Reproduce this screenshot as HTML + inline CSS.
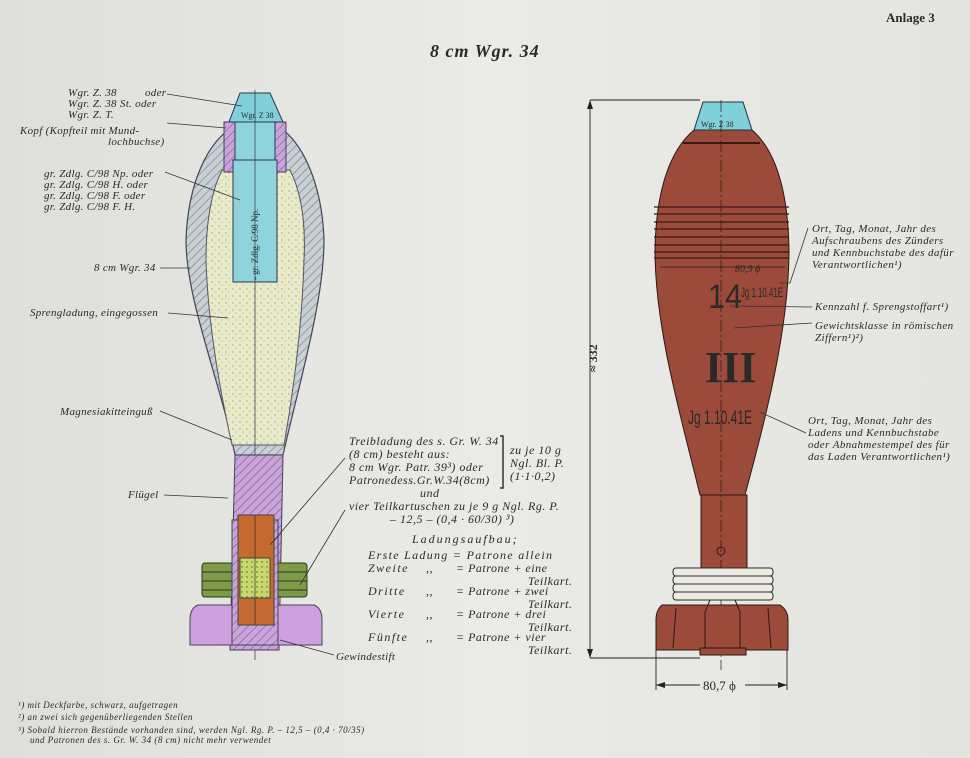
<!DOCTYPE html>
<html><head><meta charset="utf-8"><style>
html,body{margin:0;padding:0;background:#e4e4e0}
svg{display:block}
text{font-family:"Liberation Serif",serif;font-style:italic;fill:#2a2a2a}
</style></head><body>
<svg width="970" height="758" viewBox="0 0 970 758" xmlns="http://www.w3.org/2000/svg">
<defs>
<linearGradient id="bg" x1="0" y1="0" x2="1" y2="0">
<stop offset="0" stop-color="#dededa"/><stop offset="0.5" stop-color="#eaeae6"/><stop offset="1" stop-color="#e4e4e0"/></linearGradient>
<pattern id="hat" width="6" height="6" patternUnits="userSpaceOnUse" patternTransform="rotate(45)">
<rect width="6" height="6" fill="#c8d0d4"/><line x1="0" y1="0" x2="0" y2="6" stroke="#6c7c88" stroke-width="1.2"/></pattern>
<pattern id="hatp" width="6" height="6" patternUnits="userSpaceOnUse" patternTransform="rotate(45)">
<rect width="6" height="6" fill="#c9a4d8"/><line x1="0" y1="0" x2="0" y2="6" stroke="#6a4a8a" stroke-width="1"/></pattern>
<pattern id="dots" width="7" height="7" patternUnits="userSpaceOnUse">
<rect width="7" height="7" fill="#e9ebc8"/><circle cx="2" cy="2" r="0.6" fill="#777"/><circle cx="5" cy="5" r="0.5" fill="#888"/></pattern>
<pattern id="gdots" width="5" height="5" patternUnits="userSpaceOnUse">
<rect width="5" height="5" fill="#c8d86a"/><circle cx="2" cy="2" r="0.7" fill="#556020"/></pattern>
</defs>
<rect width="970" height="758" fill="url(#bg)"/>

<text x="886" y="22" font-size="13" font-weight="bold" style="font-style:normal;font-family:'Liberation Serif',serif">Anlage 3</text>
<text x="430" y="57" font-size="18" font-weight="bold" letter-spacing="1">8 cm Wgr. 34</text>

<!-- LEFT SHELL -->
<path d="M232,128 L280,128 C300,140 322,180 324,240 C324,300 300,380 283,455 L235,455 C220,380 186,300 186,240 C188,180 210,140 232,128 Z" fill="url(#hat)" stroke="#445" stroke-width="1.2"/>
<path d="M222,170 L290,170 C300,190 306,220 304,260 C302,330 292,400 284,445 L232,445 C222,400 208,330 206,260 C206,220 212,190 222,170 Z" fill="url(#dots)" stroke="#556" stroke-width="1"/>
<rect x="224" y="122" width="62" height="50" fill="url(#hatp)" stroke="#445"/>
<path d="M240,93 L270,93 L283,122 L229,122 Z" fill="#7fd0d8" stroke="#335"/>
<text x="241" y="118" font-size="8" style="font-style:normal" fill="#123">Wgr. Z 38</text>
<rect x="235" y="122" width="40" height="40" fill="#8fd4dc" stroke="#335"/>
<rect x="233" y="160" width="44" height="122" fill="#8fd4dc" stroke="#335"/>
<text transform="translate(258,280) rotate(-90)" font-size="9" style="font-style:normal" fill="#123">- gr. Zdlg. C/98 Np.</text>
<line x1="255" y1="90" x2="255" y2="660" stroke="#334" stroke-width="0.7"/>
<path d="M235,455 L283,455 L279,650 L230,650 Z" fill="url(#hatp)" stroke="#445"/>
<rect x="202" y="563" width="105" height="34" rx="3" fill="#7f9a48" stroke="#2a3a1a"/>
<line x1="202" y1="572" x2="307" y2="572" stroke="#2a3a1a"/><line x1="202" y1="581" x2="307" y2="581" stroke="#2a3a1a"/><line x1="202" y1="590" x2="307" y2="590" stroke="#2a3a1a"/>
<path d="M198,605 Q190,608 190,620 L190,645 L322,645 L322,620 Q322,608 314,605 Z" fill="#cfa0df" stroke="#445"/>
<rect x="232" y="520" width="46" height="125" fill="url(#hatp)" stroke="#445"/>
<rect x="238" y="515" width="36" height="110" fill="#c46a30" stroke="#444"/>
<rect x="240" y="558" width="30" height="40" fill="url(#gdots)" stroke="#444"/>
<line x1="255" y1="515" x2="255" y2="625" stroke="#333" stroke-width="0.7"/>

<!-- left labels -->
<g font-size="11" letter-spacing="0.3">
<text x="68" y="96">Wgr. Z. 38</text><text x="145" y="96">oder</text>
<text x="68" y="107">Wgr. Z. 38 St. oder</text>
<text x="68" y="118">Wgr. Z. T.</text>
<text x="20" y="134">Kopf (Kopfteil mit Mund-</text>
<text x="108" y="145">lochbuchse)</text>
<text x="44" y="177">gr. Zdlg. C/98 Np. oder</text>
<text x="44" y="188">gr. Zdlg. C/98 H. oder</text>
<text x="44" y="199">gr. Zdlg. C/98 F. oder</text>
<text x="44" y="210">gr. Zdlg. C/98 F. H.</text>
<text x="94" y="271">8 cm Wgr. 34</text>
<text x="30" y="316">Sprengladung, eingegossen</text>
<text x="60" y="415">Magnesiakitteinguß</text>
<text x="128" y="498">Flügel</text>
<text x="336" y="660">Gewindestift</text>
</g>
<g stroke="#333" stroke-width="0.8" fill="none">
<line x1="167" y1="94" x2="242" y2="106"/>
<line x1="167" y1="123" x2="226" y2="128"/>
<line x1="165" y1="172" x2="240" y2="200"/>
<line x1="160" y1="268" x2="190" y2="268"/>
<line x1="168" y1="313" x2="228" y2="318"/>
<line x1="160" y1="411" x2="232" y2="440"/>
<line x1="164" y1="495" x2="228" y2="498"/>
<line x1="334" y1="655" x2="280" y2="640"/>
<line x1="345" y1="458" x2="270" y2="545"/>
<line x1="345" y1="510" x2="300" y2="585"/>
</g>

<!-- middle text -->
<g font-size="12" letter-spacing="0.5">
<text x="349" y="445">Treibladung des s. Gr. W. 34</text>
<text x="349" y="458">(8 cm) besteht aus:</text>
<text x="349" y="471">8 cm Wgr. Patr. 39³) oder</text>
<text x="349" y="484">Patronedess.Gr.W.34(8cm)</text>
<text x="420" y="497">und</text>
<text x="349" y="510">vier Teilkartuschen zu je 9 g Ngl. Rg. P.</text>
<text x="390" y="523">– 12,5 – (0,4 · 60/30) ³)</text>
<text x="510" y="454">zu je 10 g</text>
<text x="510" y="467">Ngl. Bl. P.</text>
<text x="510" y="480">(1·1·0,2)</text>
<text x="412" y="543" letter-spacing="2">Ladungsaufbau;</text>
<text x="368" y="559" letter-spacing="1.3">Erste Ladung = Patrone allein</text>
<text x="368" y="572" letter-spacing="1.5">Zweite</text><text x="426" y="572">,,</text><text x="456" y="572">= Patrone + eine</text>
<text x="528" y="585">Teilkart.</text>
<text x="368" y="595" letter-spacing="1.5">Dritte</text><text x="426" y="595">,,</text><text x="456" y="595">= Patrone + zwei</text>
<text x="528" y="608">Teilkart.</text>
<text x="368" y="618" letter-spacing="1.5">Vierte</text><text x="426" y="618">,,</text><text x="456" y="618">= Patrone + drei</text>
<text x="528" y="631">Teilkart.</text>
<text x="368" y="641" letter-spacing="1.5">Fünfte</text><text x="426" y="641">,,</text><text x="456" y="641">= Patrone + vier</text>
<text x="528" y="654">Teilkart.</text>
</g>
<path d="M500,436 L503,436 L503,488 L500,488" stroke="#333" fill="none" stroke-width="1.5"/>

<!-- RIGHT SHELL -->
<path d="M694,130 L752,130 C775,150 788,190 789,250 C789,330 765,420 745,495 L700,495 C682,420 655,330 655,250 C656,190 670,150 694,130 Z" fill="#9c4a3a" stroke="#2a1a14" stroke-width="1"/>
<path d="M703,102 L743,102 L752,130 L694,130 Z" fill="#7fd0d8" stroke="#234"/>
<text x="701" y="127" font-size="8" style="font-style:normal" fill="#123">Wgr. Z 38</text>
<line x1="683" y1="143" x2="760" y2="143" stroke="#3a1a14" stroke-width="2"/>
<g stroke="#3a1a14" stroke-width="1.3">
<line x1="654" y1="207" x2="789" y2="207"/><line x1="654" y1="214" x2="789" y2="214"/><line x1="654" y1="222" x2="789" y2="222"/><line x1="654" y1="229" x2="789" y2="229"/><line x1="654" y1="237" x2="789" y2="237"/><line x1="654" y1="245" x2="789" y2="245"/><line x1="654" y1="252" x2="789" y2="252"/><line x1="654" y1="258" x2="789" y2="258"/>
</g>
<rect x="701" y="495" width="46" height="75" fill="#9c4a3a" stroke="#2a1a14"/>
<line x1="721" y1="100" x2="721" y2="670" stroke="#2a1a14" stroke-width="0.7" stroke-dasharray="12,3,2,3"/>
<circle cx="721" cy="551" r="4" fill="none" stroke="#2a1a14"/>
<path d="M662,605 L780,605 Q788,610 788,620 L788,650 L656,650 L656,620 Q656,610 662,605 Z" fill="#9c4a3a" stroke="#2a1a14"/>
<rect x="700" y="648" width="46" height="7" fill="#9c4a3a" stroke="#2a1a14"/>
<g stroke="#2a1a14" stroke-width="1" fill="none">
<path d="M676,608 L673,648"/><path d="M768,608 L771,648"/>
<path d="M710,600 L705,612 L705,648"/><path d="M735,600 L740,612 L740,648"/>
</g>
<g fill="#ecebe2" stroke="#2a2a2a" stroke-width="1">
<rect x="673" y="568" width="100" height="8" rx="3"/><rect x="673" y="576" width="100" height="8" rx="3"/><rect x="673" y="584" width="100" height="8" rx="3"/><rect x="673" y="592" width="100" height="8" rx="3"/>
</g>
<text x="708" y="308" font-size="34" style="font-style:normal;font-family:'Liberation Sans',sans-serif" fill="#2a1a14" textLength="34" lengthAdjust="spacingAndGlyphs">14</text>
<text x="741" y="297" font-size="14" style="font-style:normal;font-family:'Liberation Sans',sans-serif" fill="#2a1a14" textLength="42" lengthAdjust="spacingAndGlyphs">Jg 1.10.41E</text>
<text x="735" y="272" font-size="10" fill="#2a1a14">80,9 ϕ</text>
<line x1="660" y1="267" x2="785" y2="267" stroke="#2a1a14" stroke-width="0.8"/>
<text x="705" y="382" font-size="44" font-weight="bold" style="font-style:normal" fill="#1a0e0a">III</text>
<text x="688" y="424" font-size="19" style="font-style:normal;font-family:'Liberation Sans',sans-serif" fill="#1a0e0a" textLength="64" lengthAdjust="spacingAndGlyphs">Jg 1.10.41E</text>

<!-- dimension lines -->
<g stroke="#222" stroke-width="0.9">
<line x1="590" y1="100" x2="700" y2="100"/><line x1="590" y1="658" x2="700" y2="658"/>
<line x1="590" y1="100" x2="590" y2="658"/>
<line x1="656" y1="650" x2="656" y2="690"/><line x1="787" y1="650" x2="787" y2="690"/>
<line x1="656" y1="685" x2="700" y2="685"/><line x1="745" y1="685" x2="787" y2="685"/>
</g>
<path d="M590,100 l-3,9 l6,0 Z M590,658 l-3,-9 l6,0 Z M656,685 l9,-3 l0,6 Z M787,685 l-9,-3 l0,6 Z" fill="#222"/>
<text transform="translate(597,372) rotate(-90)" font-size="12" font-weight="bold" style="font-style:normal">≈ 332</text>
<text x="703" y="690" font-size="13" style="font-style:normal">80,7 ϕ</text>

<!-- right labels -->
<g font-size="11" letter-spacing="0.4">
<text x="812" y="232">Ort, Tag, Monat, Jahr des</text>
<text x="812" y="244">Aufschraubens des Zünders</text>
<text x="812" y="256">und Kennbuchstabe des dafür</text>
<text x="812" y="268">Verantwortlichen¹)</text>
<text x="815" y="310">Kennzahl f. Sprengstoffart¹)</text>
<text x="815" y="329">Gewichtsklasse in römischen</text>
<text x="815" y="341">Ziffern¹)²)</text>
<text x="808" y="424">Ort, Tag, Monat, Jahr des</text>
<text x="808" y="436">Ladens und Kennbuchstabe</text>
<text x="808" y="448">oder Abnahmestempel des für</text>
<text x="808" y="460">das Laden Verantwortlichen¹)</text>
</g>
<g stroke="#333" stroke-width="0.8" fill="none">
<path d="M808,228 L790,283 L780,283"/>
<line x1="812" y1="307" x2="730" y2="306"/>
<line x1="812" y1="323" x2="734" y2="328"/>
<line x1="806" y1="433" x2="760" y2="412"/>
</g>

<!-- footnotes -->
<g font-size="9" letter-spacing="0.5">
<text x="18" y="708">¹) mit Deckfarbe, schwarz, aufgetragen</text>
<text x="18" y="720">²) an zwei sich gegenüberliegenden Stellen</text>
<text x="18" y="733">³) Sobald hierron Bestände vorhanden sind, werden Ngl. Rg. P. – 12,5 – (0,4 · 70/35)</text>
<text x="30" y="743">und Patronen des s. Gr. W. 34 (8 cm) nicht mehr verwendet</text>
</g>
</svg>
</body></html>
